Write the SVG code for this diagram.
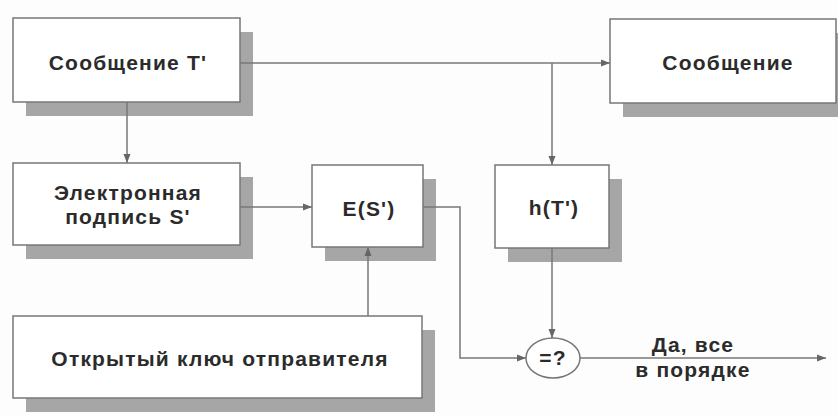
<svg xmlns="http://www.w3.org/2000/svg" width="838" height="415" viewBox="0 0 838 415">
<defs>
<marker id="ah" markerWidth="10" markerHeight="8" refX="9" refY="4" orient="auto" markerUnits="userSpaceOnUse">
<path d="M0,0.5 L9,4 L0,7.5 Z" fill="#666"/>
</marker>
<style>
.box{fill:#fff;stroke:#777;stroke-width:1.5}
.sh{fill:#a6a6a6}
.t{font-family:"Liberation Sans",Arial,sans-serif;font-weight:bold;font-size:21px;fill:#2b2b2b;text-anchor:middle;letter-spacing:1.2px}
.c{fill:none;stroke:#777;stroke-width:1.5}
.ca{fill:none;stroke:#777;stroke-width:1.5;marker-end:url(#ah)}
</style>
</defs>
<rect width="838" height="415" fill="#fdfdfd"/>
<g id="msg-t">
<rect class="sh" x="26" y="32" width="227" height="84"/>
<rect class="box" x="13" y="18" width="227" height="84"/>
<text class="t" x="128" y="70">Сообщение Т'</text>
</g>
<g id="signature">
<rect class="sh" x="26" y="177" width="227" height="82"/>
<rect class="box" x="13" y="163" width="227" height="82"/>
<text class="t" x="128" y="200">Электронная</text>
<text class="t" x="128" y="224">подпись S'</text>
</g>
<g id="pubkey">
<rect class="sh" x="26" y="330" width="409" height="82"/>
<rect class="box" x="13" y="316" width="409" height="82"/>
<text class="t" x="220" y="366">Открытый ключ отправителя</text>
</g>
<g id="es">
<rect class="sh" x="325" y="179" width="111" height="82"/>
<rect class="box" x="312" y="165" width="111" height="82"/>
<text class="t" x="369" y="216">E(S')</text>
</g>
<g id="ht">
<rect class="sh" x="508" y="179" width="114" height="83"/>
<rect class="box" x="495" y="165" width="114" height="83"/>
<text class="t" x="554" y="215">h(T')</text>
</g>
<g id="msg">
<rect class="sh" x="623" y="33" width="226" height="84"/>
<rect class="box" x="610" y="19" width="226" height="84"/>
<text class="t" x="728" y="70">Сообщение</text>
</g>
<g id="compare">
<ellipse cx="553" cy="358" rx="27" ry="20" fill="#fff" stroke="#777" stroke-width="1.5"/>
<text class="t" x="553" y="365">=?</text>
</g>
<g id="result">
<text class="t" x="693" y="352">Да, все</text>
<text class="t" x="693" y="377">в порядке</text>
</g>
<g id="connectors">
<path class="ca" d="M240,63 H610"/>
<path class="ca" d="M552,63 V165"/>
<path class="ca" d="M127,102 V163"/>
<path class="ca" d="M240,207 H312"/>
<path class="ca" d="M368,316 V247"/>
<path class="ca" d="M423,207 H460 V358 H526"/>
<path class="ca" d="M552,248 V338"/>
<path class="ca" d="M580,358 H826"/>
</g>
</svg>
